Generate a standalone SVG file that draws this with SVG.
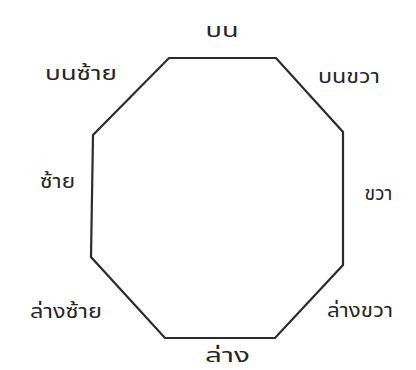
<svg xmlns="http://www.w3.org/2000/svg" width="416" height="370" viewBox="0 0 416 370">
<style>
.lbl{font-family:"Noto Sans Thai","Noto Sans","DejaVu Sans",sans-serif;font-size:19px;fill:#262626;text-anchor:middle}
.oct{fill:none;stroke:#2b2b2b;stroke-width:2.2;stroke-linejoin:miter}
</style>
<rect width="416" height="370" fill="#fff"/>
<g id="connectors">
<polygon id="octagon" class="oct" points="169,58 276,58 343,132 343,265 275,338 165,338 91,257 93,135"/>
</g>
<g id="top"><text class="lbl" x="222" y="37" textLength="33" lengthAdjust="spacingAndGlyphs">บน</text></g>
<g id="top-left"><text class="lbl" x="81" y="80" textLength="72" lengthAdjust="spacingAndGlyphs">บนซ้าย</text></g>
<g id="top-right"><text class="lbl" x="349" y="83" textLength="62" lengthAdjust="spacingAndGlyphs">บนขวา</text></g>
<g id="left"><text class="lbl" x="57.5" y="188" textLength="35" lengthAdjust="spacingAndGlyphs">ซ้าย</text></g>
<g id="right"><text class="lbl" x="378.5" y="200" textLength="28" lengthAdjust="spacingAndGlyphs">ขวา</text></g>
<g id="bottom-left"><text class="lbl" x="66" y="318" textLength="72" lengthAdjust="spacingAndGlyphs">ล่างซ้าย</text></g>
<g id="bottom-right"><text class="lbl" x="360" y="317" textLength="66" lengthAdjust="spacingAndGlyphs">ล่างขวา</text></g>
<g id="bottom"><text class="lbl" x="227.5" y="362" textLength="45" lengthAdjust="spacingAndGlyphs">ล่าง</text></g>
</svg>
